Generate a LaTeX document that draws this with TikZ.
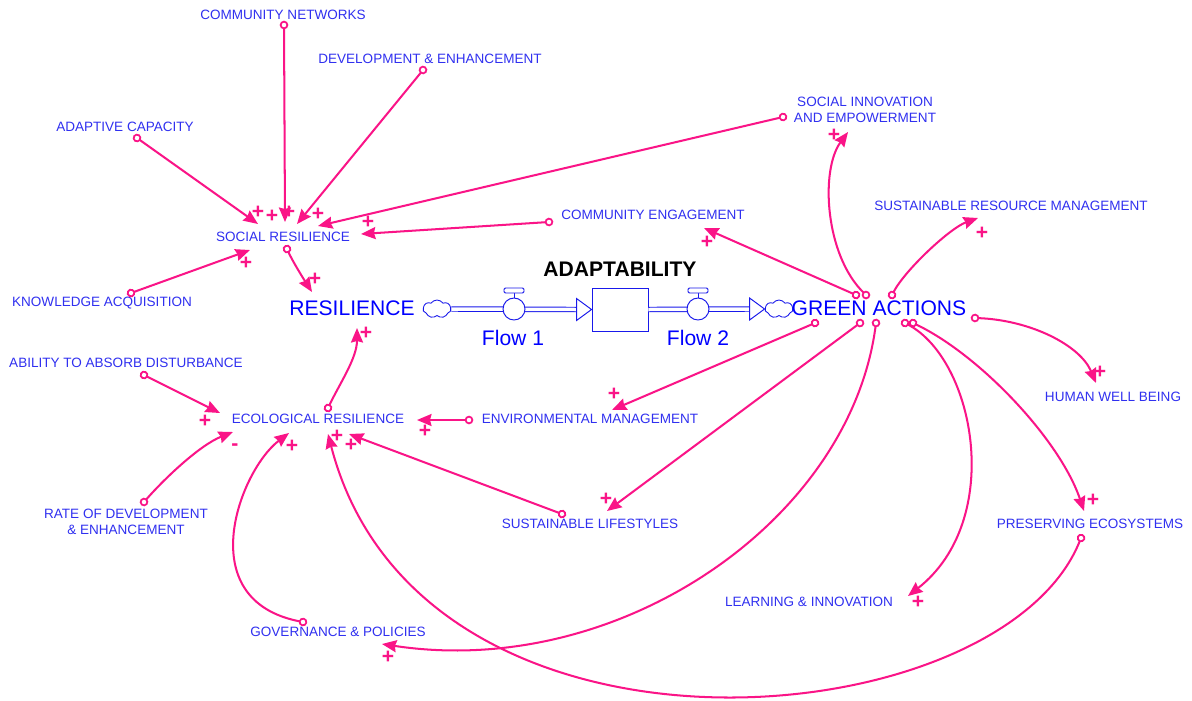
\documentclass[tikz,border=0pt]{standalone}
\usepackage{fontspec}
\setmainfont{Liberation Sans}
\usetikzlibrary{arrows.meta,shapes.symbols}
\definecolor{linkpink}{RGB}{250,20,135}
\definecolor{lbl}{RGB}{48,48,240}
\definecolor{sfblue}{RGB}{25,25,235}

\begin{document}
\begin{tikzpicture}[x=0.02cm,y=-0.02cm,
  var/.style={text=lbl,font=\fontsize{7.7}{9.4}\selectfont,inner sep=0pt,align=center},
  bigvar/.style={text=blue,font=\fontsize{12}{14}\selectfont,inner sep=0pt},
  link/.style={draw=linkpink,line width=1.15pt,
    {Circle[open,length=0.17cm,width=0.17cm,fill=white,line width=1pt]}-{Stealth[length=0.29cm,width=0.24cm,inset=0.03cm]},
    shorten <=-0.085cm},
  pol/.style={text=linkpink,font=\fontsize{12}{12}\selectfont\bfseries,inner sep=0pt},
  pipe/.style={draw=sfblue,line width=0.55pt,double,double distance=0.07cm},
  pipehead/.style={draw=sfblue,fill=white,line width=0.55pt},
  valve/.style={circle,draw=sfblue,fill=white,line width=0.55pt,minimum size=0.44cm,inner sep=0pt},
  sfcloud/.style={cloud,draw=sfblue,fill=white,line width=0.5pt,cloud puffs=7,cloud puff arc=110,
    aspect=1.6,minimum width=0.56cm,minimum height=0.36cm,inner sep=0pt},
]
\path[use as bounding box,fill=white] (0,0) rectangle (1192,700);

% ---- variables ----
\node[var] (cn)  at (283,15)  {COMMUNITY NETWORKS};
\node[var] (de)  at (430,59)  {DEVELOPMENT \& ENHANCEMENT};
\node[var] (ac)  at (125,127) {ADAPTIVE CAPACITY};
\node[var] (si)  at (865,110) {SOCIAL INNOVATION\\AND EMPOWERMENT};
\node[var] (srm) at (1011,206) {SUSTAINABLE RESOURCE MANAGEMENT};
\node[var] (ce)  at (653,215) {COMMUNITY ENGAGEMENT};
\node[var] (sr)  at (283,237) {SOCIAL RESILIENCE};
\node[var] (ka)  at (102,303) {KNOWLEDGE ACQUISITION};
\node[var] (ab)  at (126,363) {ABILITY TO ABSORB DISTURBANCE};
\node[var] (er)  at (318,419) {ECOLOGICAL RESILIENCE};
\node[var] (em)  at (590,419) {ENVIRONMENTAL MANAGEMENT};
\node[var] (hwb) at (1113,397) {HUMAN WELL BEING};
\node[var] (rd)  at (126,522) {RATE OF DEVELOPMENT\\\& ENHANCEMENT};
\node[var] (sl)  at (590,524) {SUSTAINABLE LIFESTYLES};
\node[var] (pe)  at (1090,524) {PRESERVING ECOSYSTEMS};
\node[var] (li)  at (809,602) {LEARNING \& INNOVATION};
\node[var] (gp)  at (338,632) {GOVERNANCE \& POLICIES};

\node[bigvar] (res) at (352,308) {RESILIENCE};
\node[bigvar] (ga)  at (879,308) {GREEN ACTIONS};

% ---- stock and flows ----
\node[text=black,font=\fontsize{12}{14}\selectfont\bfseries,inner sep=0pt] (adapt) at (620,269) {ADAPTABILITY};
\node[draw=sfblue,fill=white,line width=0.55pt,minimum width=1.12cm,minimum height=0.86cm,inner sep=0pt] (stock) at (620,309.5) {};
\node[sfcloud] (cl1) at (437,309) {};
\node[sfcloud] (cl2) at (779,309) {};

\draw[pipe] (cl1.east) -- ([shift={(-15,0)}]stock.west);
\draw[pipehead] ([shift={(-15,-11)}]stock.west) -- (stock.west) -- ([shift={(-15,11)}]stock.west) -- cycle;
\draw[pipe] (stock.east) -- ([shift={(-15,0)}]cl2.west);
\draw[pipehead] ([shift={(-15,-11)}]cl2.west) -- (cl2.west) -- ([shift={(-15,11)}]cl2.west) -- cycle;

\node[valve] (v1) at (514,309) {};
\node[valve] (v2) at (698,309) {};
\foreach \v in {v1,v2}{
  \draw[draw=sfblue,line width=0.55pt] (\v.north) -- ([shift={(0,-16)}]\v.center);
  \draw[draw=sfblue,fill=white,line width=0.55pt,rounded corners=0.8pt]
    ([shift={(-10,-21)}]\v.center) rectangle ([shift={(10,-16)}]\v.center);
}
\node[bigvar] (f1) at (513,338) {Flow 1};
\node[bigvar] (f2) at (698,338) {Flow 2};

% ---- links into SOCIAL RESILIENCE ----
\draw[link] ([shift={(1,10)}]cn.center) -- ([shift={(2,-15)}]sr.center);
\draw[link] ([shift={(12,11)}]ac.center) -- ([shift={(-25,-13)}]sr.center);
\draw[link] ([shift={(-7,11)}]de.center) -- ([shift={(14,-13)}]sr.center);
\draw[link] ([shift={(-82,7)}]si.center) -- ([shift={(35,-11)}]sr.center);
\draw[link] ([shift={(-104,7)}]ce.center) -- ([shift={(78,-3)}]sr.center);
\draw[link] ([shift={(29,-10)}]ka.center) -- ([shift={(-33,13)}]sr.center);
\draw[link] ([shift={(4,12)}]sr.center) .. controls (293,262) and (303,278) .. ([shift={(-40,-16)}]res.center);

% ---- links into ECOLOGICAL RESILIENCE ----
\draw[link] ([shift={(10,-11)}]er.center) .. controls (340,383) and (357,358) .. ([shift={(5,20)}]res.center);
\draw[link] ([shift={(18,12)}]ab.center) -- ([shift={(-98,-6)}]er.center);
\draw[link] ([shift={(18,-20)}]rd.center) .. controls (165,478) and (200,445) .. ([shift={(-85,13)}]er.center);
\draw[link] ([shift={(-35,-10)}]gp.center) .. controls (190,600) and (240,470) .. ([shift={(-29,14)}]er.center);
\draw[link] ([shift={(-9,14)}]pe.center) .. controls (1000,740) and (420,790) .. ([shift={(10,15)}]er.center);
\draw[link] ([shift={(-28,-10)}]sl.center) -- ([shift={(31,15)}]er.center);
\draw[link] ([shift={(-121,1)}]em.center) -- ([shift={(99,1)}]er.center);

% ---- links out of GREEN ACTIONS ----
\draw[link] ([shift={(-23,-13)}]ga.center) -- ([shift={(51,13)}]ce.center);
\draw[link] ([shift={(-13,-13)}]ga.center) .. controls (825,255) and (820,170) .. ([shift={(-17,22)}]si.center);
\draw[link] ([shift={(13,-13)}]ga.center) .. controls (905,270) and (950,228) .. ([shift={(-33,12)}]srm.center);
\draw[link] ([shift={(-64,15)}]ga.center) -- ([shift={(22,-9)}]em.center);
\draw[link] ([shift={(-19,15)}]ga.center) -- ([shift={(17,-13)}]sl.center);
\draw[link] ([shift={(-3,15)}]ga.center) .. controls (850,520) and (620,680) .. ([shift={(44,12)}]gp.center);
\draw[link] ([shift={(26,15)}]ga.center) .. controls (975,360) and (1005,520) .. ([shift={(99,-6)}]li.center);
\draw[link] ([shift={(34,15)}]ga.center) .. controls (980,355) and (1060,440) .. ([shift={(-6,-13)}]pe.center);
\draw[link] ([shift={(96,10)}]ga.center) .. controls (1030,320) and (1080,345) .. ([shift={(-17,-14)}]hwb.center);

% ---- polarities ----
\node[pol] (p1)  at (258,212) {+};
\node[pol] (p2)  at (272,216) {+};
\node[pol] (p3)  at (289,212) {+};
\node[pol] (p4)  at (318,214) {+};
\node[pol] (p5)  at (368,222) {+};
\node[pol] (p6)  at (246,263) {+};
\node[pol] (p7)  at (315,279) {+};
\node[pol] (p8)  at (366,333) {+};
\node[pol] (p9)  at (205,421) {+};
\node[pol] (p10) at (235,447) {-};
\node[pol] (p11) at (292,446) {+};
\node[pol] (p12) at (337,436) {+};
\node[pol] (p13) at (351,445) {+};
\node[pol] (p14) at (425,431) {+};
\node[pol] (p15) at (707,242) {+};
\node[pol] (p16) at (834,135) {+};
\node[pol] (p17) at (982,233) {+};
\node[pol] (p18) at (614,394) {+};
\node[pol] (p19) at (606,499) {+};
\node[pol] (p20) at (388,657) {+};
\node[pol] (p21) at (918,602) {+};
\node[pol] (p22) at (1093,500) {+};
\node[pol] (p23) at (1100,372) {+};
\end{tikzpicture}
\end{document}
